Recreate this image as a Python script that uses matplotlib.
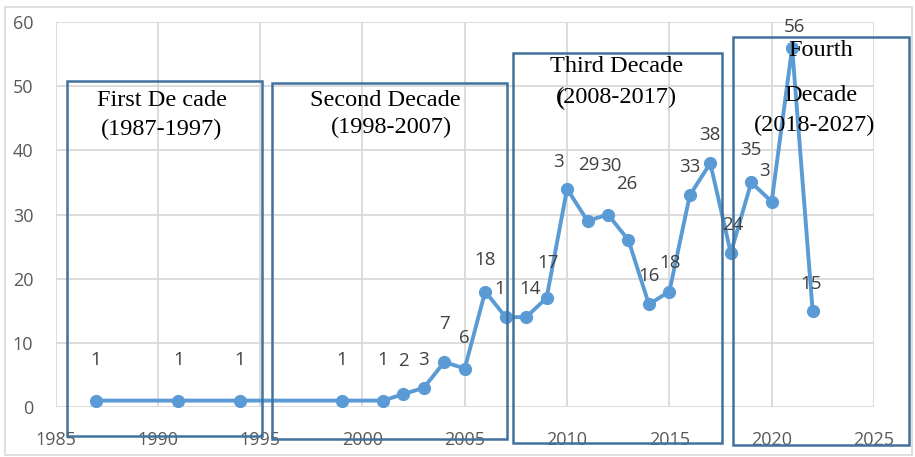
import matplotlib
matplotlib.use("Agg")
import matplotlib.pyplot as plt
from matplotlib.patches import Rectangle

# Publications per year
years = [1987, 1991, 1994, 1999, 2001, 2002, 2003, 2004, 2005, 2006, 2007, 2008, 2009,
         2010, 2011, 2012, 2013, 2014, 2015, 2016, 2017, 2018, 2019, 2020, 2021, 2022]
counts = [1, 1, 1, 1, 1, 2, 3, 7, 6, 18, 14, 14, 17,
          34, 29, 30, 26, 16, 18, 33, 38, 24, 35, 32, 56, 15]

# Data labels that show only their leading digit (crowded by neighbours)
clipped_labels = {2007: 1, 2010: 1, 2020: 1}

x_ticks = [1985, 1990, 1995, 2000, 2005, 2010, 2015, 2020, 2025]
y_ticks = [0, 10, 20, 30, 40, 50, 60]

# Decade annotation boxes: (x0, x1, y0, y1) in data units, and their text lines
decade_boxes = [
    (1985.56, 1995.07, -4.5, 50.8),
    (1995.56, 2007.07, -5.0, 50.5),
    (2007.37, 2017.56, -5.6, 55.1),
    (2018.10, 2026.73, -5.9, 57.6),
]
decade_texts = [
    [("First De cade", 1990.2, 47.8), ("(1987-1997)", 1990.2, 43.2)],
    [("Second Decade", 2001.1, 47.8), ("(1998-2007)", 2001.4, 43.5)],
    [("Third Decade", 2012.4, 53.0), ("(2008-2017)", 2012.4, 48.3)],
    [("Fourth", 2022.4, 55.6), ("Decade", 2022.4, 48.6), ("(2018-2027)", 2022.1, 43.8)],
]

# Label offsets from each marker, in pixels (dx right, dy up)
label_offsets = [(-1, 42), (0, 42), (0, 42), (0, 42), (0, 42), (0, 35), (0, 29), (0, 40),
                 (0, 32), (0, 33), (-6, 30), (4, 30), (1, 36), (-9, 28), (1, 57), (3, 50),
                 (-2, 58), (0, 30), (1, 30), (0, 30), (0, 30), (2, 29), (0, 34), (-7, 32),
                 (2, 22), (-2, 28)]

W, H, DPI = 915, 457, 100
fig = plt.figure(figsize=(W / DPI, H / DPI), dpi=DPI)
fig.patch.set_facecolor("white")

ax = fig.add_axes([55.5 / W, 50 / H, (874 - 55.5) / W, (407 - 22) / H])
ax.set_xlim(1985, 2025)
ax.set_ylim(0, 60)
ax.set_xticks(x_ticks)
ax.set_yticks(y_ticks)
ax.grid(True, color="#D9D9D9", linewidth=1.3)
ax.set_axisbelow(True)
for s in ax.spines.values():
    s.set_visible(False)
ax.tick_params(length=0, labelsize=13, labelcolor="#595959")
ax.tick_params(axis="y", pad=16)
ax.tick_params(axis="x", pad=17)
for lab in ax.get_xticklabels() + ax.get_yticklabels():
    lab.set_fontfamily("Open Sans")

line_color = "#5B9BD5"
ax.plot(years, counts, color=line_color, linewidth=2.8, marker="o",
        markersize=8.5, zorder=4, clip_on=False)

px2pt = 72 / DPI
for yr, c, (dx, dy) in zip(years, counts, label_offsets):
    txt = str(c)
    if yr in clipped_labels:
        txt = txt[:clipped_labels[yr]]
    ax.annotate(txt, (yr, c), xytext=(dx * px2pt, (dy - 6.5) * px2pt),
                textcoords="offset points", ha="center", va="baseline",
                fontsize=13.5, color="#404040", family="Open Sans", zorder=6)

box_color = "#41719C"
for (x0, x1, y0, y1), lines in zip(decade_boxes, decade_texts):
    ax.add_patch(Rectangle((x0, y0), x1 - x0, y1 - y0, fill=False,
                           edgecolor=box_color, linewidth=1.8, clip_on=False, zorder=5))
    for t, tx, ty in lines:
        ax.text(tx, ty, t, ha="center", va="center", fontsize=17.5,
                family="Liberation Serif", color="black", zorder=7)

# Overlapping parenthesis in the third decade caption
ax.text(2009.72, 47.9, "(", ha="center", va="center", fontsize=17.5,
        family="Liberation Serif", color="black", zorder=7)

# Chart area border
fig.patches.append(Rectangle((5 / W, 2 / H), (912 - 5) / W, (450 - 2) / H,
                             transform=fig.transFigure, fill=False,
                             edgecolor="#D9D9D9", linewidth=1.2))

fig.savefig("out.png", dpi=DPI)
